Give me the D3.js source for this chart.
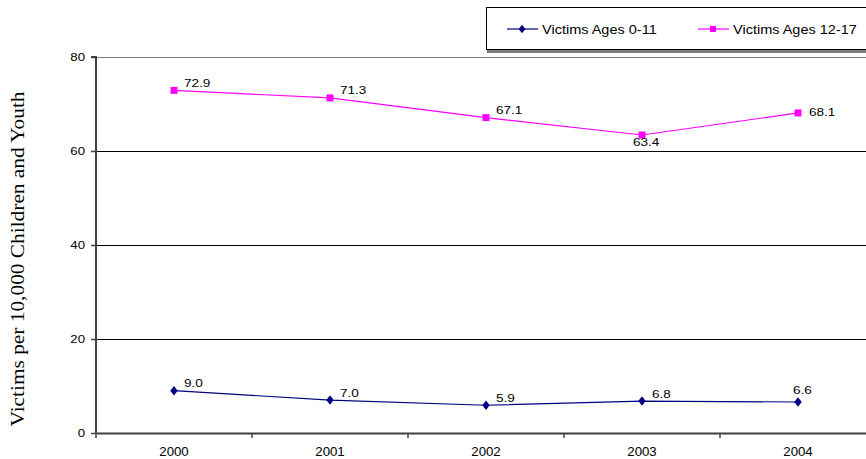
<!DOCTYPE html>
<html><head><meta charset="utf-8">
<script src="https://cdn.jsdelivr.net/npm/d3@7"></script>
<style>body{margin:0;background:#fff}svg{display:block}</style>
</head><body>
<svg id="c" width="866" height="459"></svg>
<script>
const years = ["2000","2001","2002","2003","2004"];
const youngValues = [9.0, 7.0, 5.9, 6.8, 6.6];
const teenValues = [72.9, 71.3, 67.1, 63.4, 68.1];
const yTicks = [0, 20, 40, 60, 80];
const seriesNames = ["Victims Ages 0-11", "Victims Ages 12-17"];
const youngLabelPos = ["ne","ne","ne","ne","n"];
const teenLabelPos = ["ne","ne","ne","s","e"];

const svg = d3.select("#c");
const W = 866, H = 459;
const m = {l: 96, t: 57, b: 433, r: 876};
const x = d3.scaleBand().domain(years).range([m.l, m.r]);
const y = d3.scaleLinear().domain([0, 80]).range([m.b, m.t]);
const font = "Liberation Sans, Arial, sans-serif";

// stretch text horizontally like the reference rendering
function stretch(sel, f) {
  sel.each(function() {
    const w = this.getComputedTextLength();
    d3.select(this).attr("textLength", w * f).attr("lengthAdjust", "spacingAndGlyphs");
  });
}

// gridlines
svg.append("g").selectAll("line").data(yTicks.filter(d => d > 0)).join("line")
  .attr("x1", m.l).attr("x2", W).attr("y1", d => y(d)).attr("y2", d => y(d))
  .attr("stroke", d => d === 80 ? "#808080" : "#000").attr("stroke-width", 1)
  .attr("shape-rendering", "crispEdges");

// y axis
const ya = svg.append("g").attr("transform", `translate(${m.l},0)`)
  .call(d3.axisLeft(y).tickValues(yTicks).tickSize(5).tickPadding(6).tickFormat(d3.format("d")));
ya.select(".domain").attr("stroke", "#404040").attr("stroke-width", 2).attr("d", `M-5,${m.t}H0V${m.b}`);
ya.selectAll(".tick line").attr("stroke", "#404040").attr("stroke-width", 1.5);
ya.selectAll("text").attr("font-family", font).attr("font-size", 11.5).attr("fill", "#000").call(stretch, 1.15);

// x axis
const xa = svg.append("g").attr("transform", `translate(0,${m.b})`)
  .call(d3.axisBottom(x).tickSize(0).tickPadding(14));
xa.select(".domain").attr("stroke", "#404040").attr("stroke-width", 2);
xa.selectAll("text").attr("font-family", font).attr("font-size", 12.5).attr("fill", "#000").call(stretch, 1.06);
const bounds = years.map(d => x(d)).concat([m.r]);
xa.append("g").selectAll("line").data(bounds).join("line")
  .attr("x1", d => d).attr("x2", d => d).attr("y1", 0).attr("y2", 5)
  .attr("stroke", "#404040").attr("stroke-width", 1.5);

// y title
svg.append("text").attr("transform", `translate(24,259) rotate(-90)`)
  .attr("text-anchor", "middle").attr("font-family", "Liberation Serif, Times New Roman, serif")
  .attr("font-size", 19).attr("fill", "#000")
  .attr("textLength", 335).attr("lengthAdjust", "spacingAndGlyphs")
  .text("Victims per 10,000 Children and Youth");

const cx = d => x(d) + x.bandwidth() / 2;
function drawSeries(vals, color, shape, labelPos) {
  const g = svg.append("g");
  g.append("path").datum(vals)
    .attr("d", d3.line().x((d, i) => cx(years[i])).y(d => y(d)))
    .attr("fill", "none").attr("stroke", color).attr("stroke-width", 1.2);
  vals.forEach((v, i) => {
    const px = cx(years[i]), py = y(v);
    if (shape === "diamond") {
      g.append("path").attr("d", d3.symbol().type(d3.symbolDiamond).size(36)())
        .attr("transform", `translate(${px},${py}) scale(1.15,0.85)`).attr("fill", color);
    } else {
      g.append("rect").attr("x", px - 3.5).attr("y", py - 3.5).attr("width", 7).attr("height", 7).attr("fill", color);
    }
    const p = labelPos[i];
    let tx = px + 10, ty = py - 3.5;
    if (p === "n") { tx = px - 5; ty = py - 8; }
    if (p === "s") { tx = px - 9; ty = py + 11; }
    if (p === "e") { tx = px + 11; ty = py + 3; }
    g.append("text").attr("x", tx).attr("y", ty)
      .attr("font-family", font).attr("font-size", 11.5).attr("fill", "#000")
      .text(d3.format(".1f")(v)).call(stretch, 1.18);
  });
}
drawSeries(youngValues, "#000080", "diamond", youngLabelPos);
drawSeries(teenValues, "#FF00FF", "square", teenLabelPos);

// legend
const lg = svg.append("g");
lg.append("rect").attr("x", 487).attr("y", 50).attr("width", 400).attr("height", 3).attr("fill", "#808080");
lg.append("rect").attr("x", 486.5).attr("y", 7.5).attr("width", 400).attr("height", 42)
  .attr("fill", "#fff").attr("stroke", "#000").attr("stroke-width", 1);
const items = [
  {name: seriesNames[0], color: "#000080", shape: "diamond", x0: 507},
  {name: seriesNames[1], color: "#FF00FF", shape: "square", x0: 698}
];
items.forEach(it => {
  const ly = 29;
  lg.append("line").attr("x1", it.x0).attr("x2", it.x0 + 31).attr("y1", ly).attr("y2", ly)
    .attr("stroke", it.color).attr("stroke-width", 1.2);
  if (it.shape === "diamond") {
    lg.append("path").attr("d", d3.symbol().type(d3.symbolDiamond).size(30)())
      .attr("transform", `translate(${it.x0 + 15},${ly}) scale(1.15,0.85)`).attr("fill", it.color);
  } else {
    lg.append("rect").attr("x", it.x0 + 12).attr("y", ly - 3).attr("width", 6).attr("height", 6).attr("fill", it.color);
  }
  lg.append("text").attr("x", it.x0 + 35).attr("y", ly + 4.7).attr("font-family", font)
    .attr("font-size", 12.5).attr("fill", "#000").text(it.name).call(stretch, 1.16);
});
</script>
</body></html>
